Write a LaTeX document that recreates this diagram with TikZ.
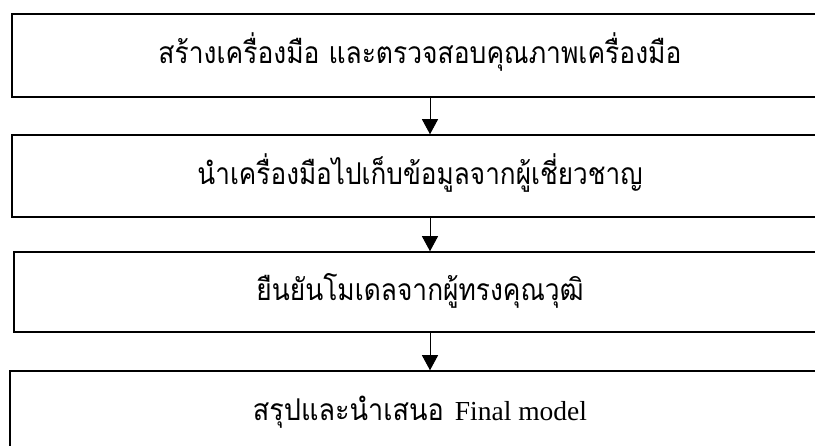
\documentclass[tikz,border=0pt]{standalone}
\usepackage{fontspec}
\usepackage{graphicx}
\setmainfont{Liberation Serif}
\newfontfamily\thaifont[Script=Thai]{Loma}
\usetikzlibrary{arrows.meta}
\newcommand{\thfit}[2]{\resizebox{#1}{\height}{\thaifont #2}}
\begin{document}
\begin{tikzpicture}[x=1pt,y=-1pt,
  box/.style={draw=black,line width=1.5pt,rectangle,inner sep=0pt,text height=27pt,text depth=10pt,font=\fontsize{30}{36}\selectfont},
  arr/.style={draw=black,line width=0.9pt,-{Triangle[width=16pt,length=15pt]}}]
\useasboundingbox (0,0) rectangle (815,446);
\node[box,minimum width=816pt,minimum height=83pt] (b1) at (420,55.5) {\thfit{523pt}{สร้างเครื่องมือ และตรวจสอบคุณภาพเครื่องมือ}};
\node[box,minimum width=816pt,minimum height=82pt] (b2) at (420,176) {\thfit{445pt}{นำเครื่องมือไปเก็บข้อมูลจากผู้เชี่ยวชาญ}};
\node[box,minimum width=812pt,minimum height=80pt] (b3) at (420,292) {\thfit{327pt}{ยืนยันโมเดลจากผู้ทรงคุณวุฒิ}};
\node[box,minimum width=820pt,minimum height=82pt] (b4) at (420,412) {\thfit{191pt}{สรุปและนำเสนอ}\hspace{11pt}{\fontsize{27.5}{32}\selectfont Final model}};
\coordinate (ax) at (430,0);
\draw[arr] (b1.south -| ax) -- (b2.north -| ax);
\draw[arr] (b2.south -| ax) -- (b3.north -| ax);
\draw[arr] (b3.south -| ax) -- (b4.north -| ax);
\end{tikzpicture}
\end{document}
